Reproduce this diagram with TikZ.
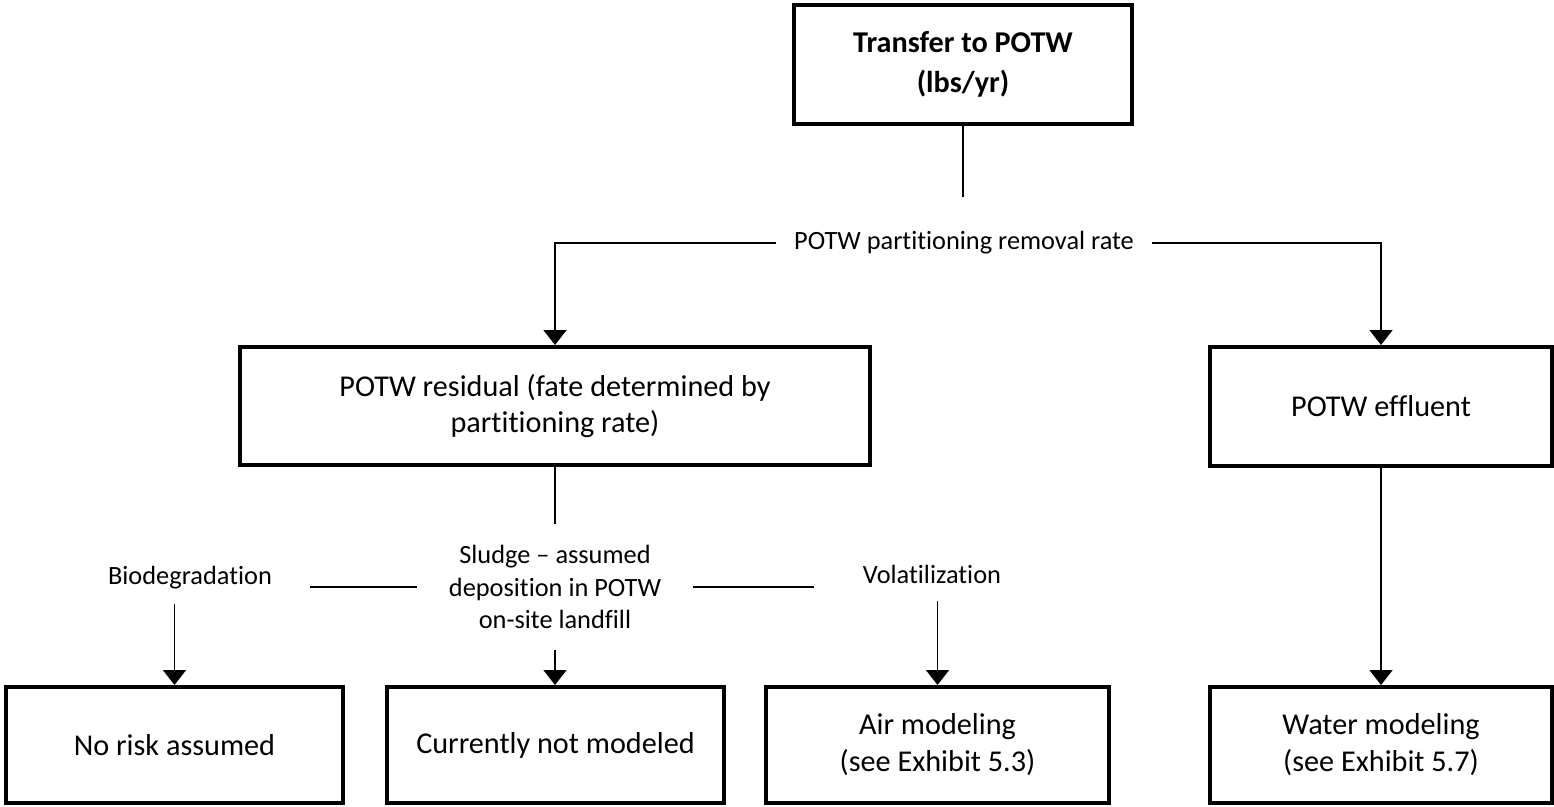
\documentclass[tikz,border=0pt]{standalone}
\usepackage{fontspec}
\setmainfont{Carlito}[RawFeature={-liga;-clig;-dlig;-calt}]
\usepackage{tikz}
\usetikzlibrary{arrows.meta}
\usetikzlibrary{positioning}

\begin{document}
\begin{tikzpicture}[x=0.02cm,y=-0.02cm,
  box/.style={draw=black,line width=0.08cm,align=center,minimum height=2.36cm,
    font=\fontsize{17.2}{21}\selectfont},
  lbl/.style={align=center,inner ysep=0pt,font=\fontsize{15}{18.4}\selectfont},
  conn/.style={black,line width=0.9pt},
  arr/.style={conn,-{Triangle[width=0.46cm,length=0.3cm]}}]
\useasboundingbox (0,0) rectangle (1554,807);
% boxes
\node[box,minimum width=6.76cm,minimum height=2.38cm,font=\fontsize{17.2}{22.5}\selectfont\bfseries]
  (transfer) at (963,64.5) {Transfer to POTW\\(lbs/yr)};
\node[box,minimum width=12.62cm] (residual) at (555,406) {POTW residual (fate determined by\\partitioning rate)};
\node[box,minimum width=6.84cm,minimum height=2.38cm] (effluent) at (1381,406.5) {POTW effluent};
\node[box,minimum width=6.74cm,minimum height=2.32cm] (norisk) at (174.5,745) {No risk assumed};
\node[box,minimum width=6.74cm,minimum height=2.32cm] (notmodeled) at (555.5,745) {Currently not modeled};
\node[box,minimum width=6.86cm,minimum height=2.32cm] (air) at (937.5,745) {Air modeling\\(see Exhibit 5.3)};
\node[box,minimum width=6.84cm,minimum height=2.32cm] (water) at (1381,745) {Water modeling\\(see Exhibit 5.7)};
% labels
\node[lbl,minimum height=1.84cm,inner xsep=0.36cm] (rate) at (964,243) {POTW partitioning removal rate};
\node[lbl,minimum height=2.52cm,inner xsep=0.64cm] (sludge) at (555,587) {Sludge -- assumed\\deposition in POTW\\on-site landfill};
\node[lbl,minimum height=1.04cm,inner xsep=0.75cm] (biodeg) at (190,578) {Biodegradation};
\node[lbl,minimum height=1.08cm,inner xsep=0.98cm] (volat) at (932,574) {Volatilization};
% connectors
\draw[conn] (transfer.south) -- (transfer.south |- rate.north);
\draw[arr] (rate.west) -| (residual.north);
\draw[arr] (rate.east) -| (effluent.north);
\draw[conn] (residual.south) -- (sludge.north);
\draw[conn] (sludge.west) -- (sludge.west -| biodeg.east);
\draw[conn] (sludge.east) -- (sludge.east -| volat.west);
\draw[arr] (biodeg.south -| norisk.north) -- (norisk.north);
\draw[arr] (sludge.south) -- (sludge.south |- notmodeled.north);
\draw[arr] (volat.south -| air.north) -- (air.north);
\draw[arr] (effluent.south) -- (water.north);
\end{tikzpicture}
\end{document}
